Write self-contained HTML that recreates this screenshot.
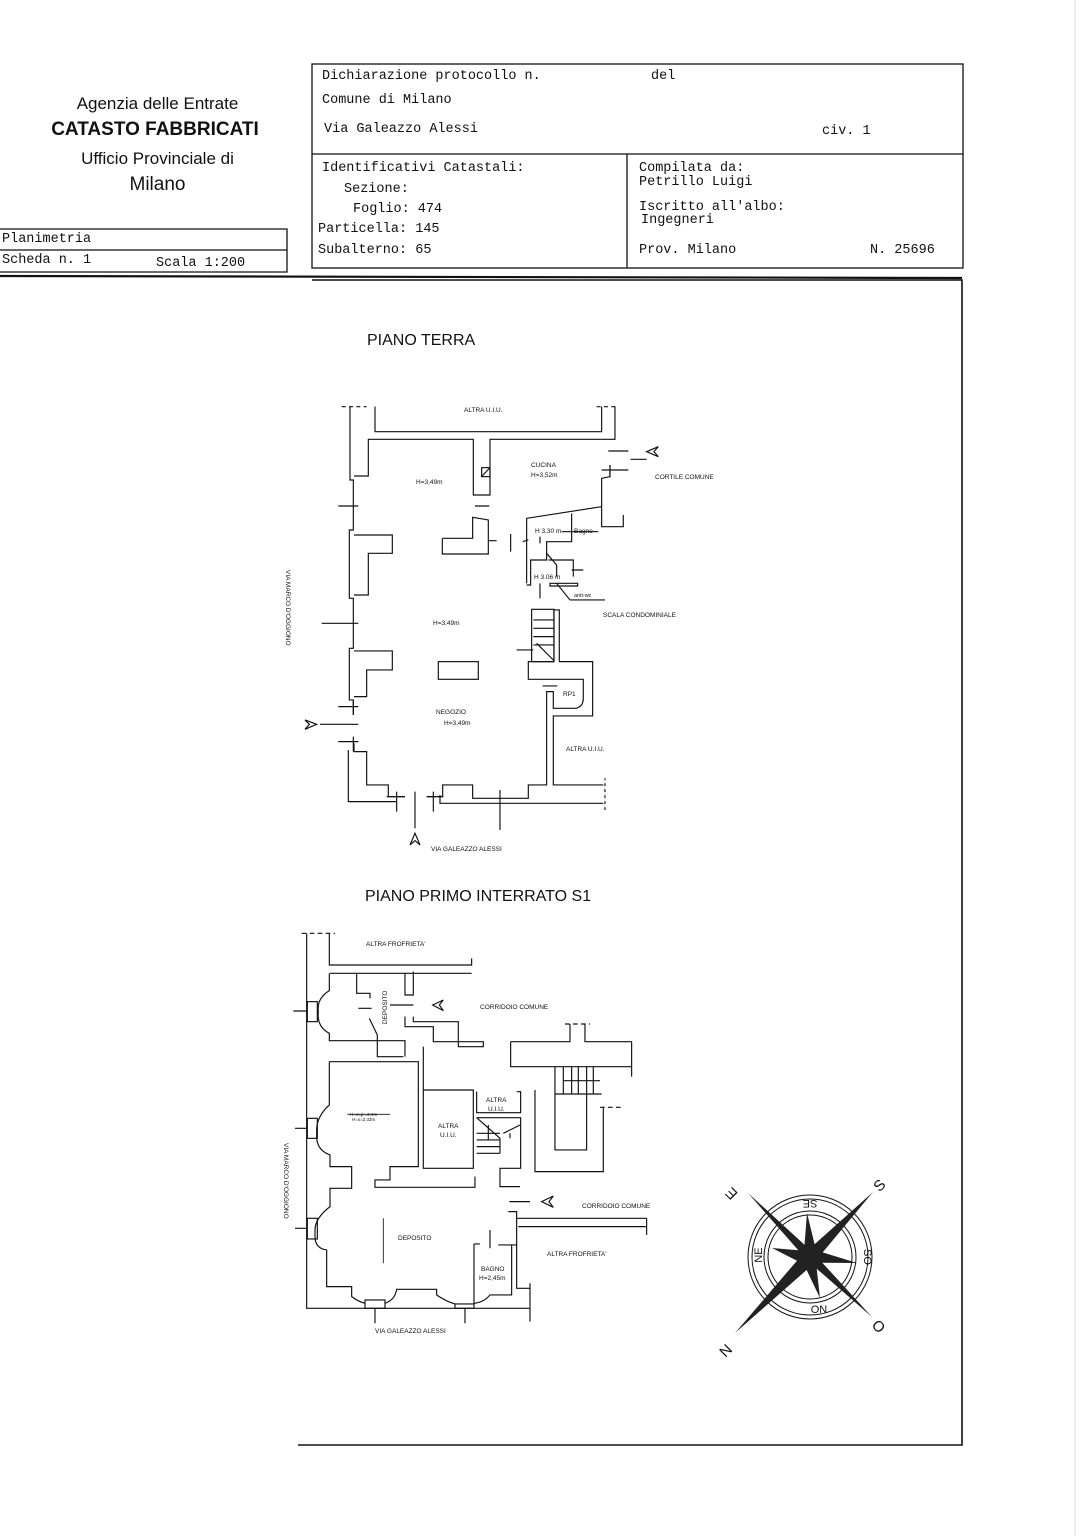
<!DOCTYPE html>
<html><head><meta charset="utf-8"><style>
body{margin:0;background:#fff;width:1085px;height:1536px;overflow:hidden;position:relative}
.m{font-family:"Liberation Mono",monospace;font-size:13.5px;position:absolute;color:#111;white-space:pre}
.s{font-family:"Liberation Sans",sans-serif;position:absolute;color:#111;text-align:center}
</style></head><body>
<div class="s" style="left:40px;top:94px;width:235px;font-size:17px">Agenzia delle Entrate</div>
<div class="s" style="left:30px;top:119px;width:250px;font-size:19px;font-weight:bold">CATASTO FABBRICATI</div>
<div class="s" style="left:40px;top:149px;width:235px;font-size:17px">Ufficio Provinciale di</div>
<div class="s" style="left:40px;top:174px;width:235px;font-size:19px">Milano</div>

<svg width="1085" height="1536" style="position:absolute;left:0;top:0" fill="none" stroke="#111">
<rect x="312" y="64" width="651" height="204" stroke-width="1.3"/>
<line x1="312" y1="154" x2="963" y2="154" stroke-width="1.3"/>
<line x1="627" y1="154" x2="627" y2="268" stroke-width="1.3"/>
<polyline points="0,229 287,229 287,272 0,272" stroke-width="1.3"/>
<line x1="0" y1="250" x2="287" y2="250" stroke-width="1.3"/>
<line x1="0" y1="276" x2="962" y2="278" stroke-width="2.2"/>
<polyline points="312,280 962,280 962,1445 298,1445" stroke-width="1.6"/>
<line x1="1075" y1="0" x2="1075" y2="1536" stroke="#ddd" stroke-width="1"/>

<!-- Ground floor -->
<g transform="translate(280,390) scale(0.3333)" stroke-width="3.5">
<path d="M185,50 H260 M950,50 H1010"  stroke-dasharray="12,10"/>
<path d="M210,50 V270 H220 V420 H208 V625 H220 V775 H208 V930 H220 V975"/>
<path d="M285,50 V125 H965 V50 M1005,50 V148 H630 V315 H580 V148 H265 V258 H222"/>
<path d="M222,435 H337 V490 H265 V615 H222 M222,783 H337 V840 H260 V920 H222"/>
<path d="M205,1080 V1235 H350 M222,1060 V1085 H260 V1185 H325 V1220 H375"/>
<path d="M440,1220 H488 V1185 H578 V1225 H745 V1185 H800 V905 H820 V955 H888 Q910,950 910,925 V868 H745 V815 H822 V660 H838 V815 H938 V978 H820 V1185 H970 M738,1240 H970 M480,1215 V1240 H738"/>
<rect x="755" y="658" width="67" height="157"/>
<path d="M760,690 H822 M760,715 H822 M760,740 H822 M760,765 H822 M770,760 L822,812 M710,780 H760"/>
<path d="M740,580 V385 L965,350 V265 L990,260 V225 M965,350 V410 H1030 V375 M740,585 H752 V510 H800 V455 H875 V370 M800,490 L830,525 V560 M805,510 H880 V560 M875,540 H910 M810,580 H893 V588 H810 Z M830,580 L870,630 H975 M845,425 H955 M728,455 L745,450 M780,440 V460 M780,580 V625"/>
<path d="M487,445 H578 V382 L625,390 V452 H650 M487,445 V492 H625 V452"/>
<rect x="475" y="815" width="120" height="53"/>
<rect x="605" y="233" width="25" height="27"/><path d="M605,260 L630,233"/>
<path d="M585,348 H628 M692,432 V485 M985,183 H1045 M1052,208 H1100 M965,240 H1045 M990,225 V262 M175,348 H235 M125,700 H235 M175,950 H235 M120,1003 H235 M175,1055 H235 M220,930 V975 M220,1040 V1085 M320,1220 H375 M350,1205 V1265 M440,1220 H490 M460,1205 V1265 M660,1200 V1320 M405,1205 V1315 M975,1165 V1260 M788,888 H832" />
<path d="M975,1170 V1260" stroke-dasharray="10,8" stroke="#fff"/>
<path d="M1135,170 L1100,185 L1135,200 L1122,185 Z M75,990 L110,1003 L75,1018 L88,1003 Z M390,1365 L405,1330 L420,1365 L405,1352 Z"/>
</g>
<g font-family="Liberation Sans,sans-serif" font-size="6.5" fill="#111" stroke="none">
<text x="464" y="412">ALTRA U.I.U.</text>
<text x="531" y="467">CUCINA</text><text x="531" y="477">H=3,52m</text>
<text x="416" y="484">H=3,49m</text>
<text x="655" y="479">CORTILE COMUNE</text>
<text x="535" y="533">H 3.30 m</text><text x="574" y="533">Bagno</text>
<text x="534" y="579">H 3.06 m</text><text x="574" y="597" font-size="5.5">anti-wc</text>
<text x="603" y="617">SCALA CONDOMINIALE</text>
<text x="433" y="625">H=3,49m</text>
<text x="563" y="696">RP1</text>
<text x="436" y="714">NEGOZIO</text><text x="444" y="725">H=3,49m</text>
<text x="566" y="751">ALTRA U.I.U.</text>
<text x="431" y="851">VIA GALEAZZO ALESSI</text>
<text transform="translate(286,570) rotate(90)">VIA MARCO D'OGGIONO</text>
</g>
<text x="367" y="345" font-family="Liberation Sans,sans-serif" font-size="16" fill="#111" stroke="none">PIANO TERRA</text>
<text x="365" y="901" font-family="Liberation Sans,sans-serif" font-size="16" fill="#111" stroke="none">PIANO PRIMO INTERRATO S1</text>

<!-- Basement -->
<g transform="translate(270,920) scale(0.3333)" stroke-width="3.5">
<path d="M95,40 H195 M885,312 H960 M990,562 H1060" stroke-dasharray="14,10"/>
<path d="M110,40 V1165 H780 M178,40 V135 H605 V115 M180,160 H605"/>
<path d="M178,160 V212 Q140,235 145,275 Q140,320 178,340 V362 H405 V410 M178,425 V555 Q140,590 140,630 V650 Q140,690 180,705 V740 H245 V805 H180 V860 Q135,895 135,930 V950 Q135,985 170,990 V1100 H245 V1130 Q265,1145 285,1150 M345,1150 Q375,1140 380,1108 H500 V1125 Q530,1145 555,1152"/>
<rect x="112" y="245" width="30" height="60"/><rect x="112" y="595" width="30" height="60"/><rect x="112" y="895" width="30" height="62"/>
<rect x="285" y="1140" width="60" height="25"/><rect x="555" y="1152" width="57" height="13"/>
<path d="M260,160 V220 H300 V235 M405,160 V225 H430 V155 M405,290 V320 H490 V365 H640 V380 H565 V305 H430 V290 M298,295 L322,345 V410 H400 M178,425 H445 V740 H360 V780 H315 V802 H615 V770 M460,380 V745 H610 V510 H460 M620,515 V578 H752 V515 H740 M620,593 H752 V745 H690 V800 H750 M722,365 V440 H1085 M722,365 H900 V312 M945,312 V365 H1085 M855,440 V690 H950 V440 M795,510 V755 H1000 V562 M855,522 H995 M880,440 V522 M905,440 V522 M925,440 V522 M950,440 V522 M970,440 V522 M880,482 H990"/>
<path d="M620,593 L690,655 V700 M620,640 H690 M620,660 H690 M620,680 H690 M620,700 H690 M655,615 V660 M700,640 L750,615 M720,640 V655 M1085,365 V470" />
<path d="M740,875 V1105 H780 M740,895 H1130 M745,920 H1130 M715,875 H740 V975 H685 M612,972 H630 M612,972 V1150 H615 Q645,1145 660,1125 H725 V975 M660,930 V985 M718,845 H780 M265,265 H305 M360,255 H430 M315,1165 V1210 M585,1165 V1210 M70,273 H110 M75,625 H110 M75,925 H110 M780,1090 V1205 M1130,895 V945" />
<path d="M520,240 L488,255 L520,272 L508,255 Z M850,828 L815,845 L850,862 L837,845 Z"/>
<path d="M232,583 H360 M340,895 V1030" stroke-width="2.5"/>
</g>
<g font-family="Liberation Sans,sans-serif" font-size="6.5" fill="#111" stroke="none">
<text x="366" y="946">ALTRA FROFRIETA'</text>
<text x="480" y="1009">CORRIDOIO COMUNE</text>
<text transform="translate(387,1024) rotate(-90)">DEPOSITO</text>
<text x="486" y="1102">ALTRA</text><text x="488" y="1111">U.I.U.</text>
<text x="438" y="1128">ALTRA</text><text x="440" y="1137">U.I.U.</text>
<text x="350" y="1116" font-size="4.5">H=m.p.=2,6m</text><text x="352" y="1121" font-size="4.5">H=s=2,33m</text>
<text x="582" y="1208">CORRIDOIO COMUNE</text>
<text x="398" y="1240">DEPOSITO</text>
<text x="547" y="1256">ALTRA FROFRIETA'</text>
<text x="481" y="1271">BAGNO</text><text x="479" y="1280">H=2,45m</text>
<text x="375" y="1333">VIA GALEAZZO ALESSI</text>
<text transform="translate(284,1143) rotate(90)">VIA MARCO D'OGGIONO</text>
</g>

<!-- Compass -->
<g>
<circle cx="810" cy="1257" r="62" stroke-width="1"/><circle cx="810" cy="1257" r="58" stroke-width="1"/>
<circle cx="810" cy="1257" r="46" stroke-width="1"/><circle cx="810" cy="1257" r="42" stroke-width="1"/>
<polygon fill="#222" stroke="none" transform="translate(810,1257)" points="-62,-64 -5.5,-12.3 -3,-44 4.6,-12.7 63,-65 12.7,-4.6 47,6 12.3,5.7 62,60 6.7,11.7 10,41 -3.4,13 -75,76 -13,3.7 -38,-9 -11.7,-6.7"/>
<g font-family="Liberation Sans,sans-serif" font-size="15" fill="#111" stroke="none">
<text transform="translate(735,1190) rotate(-135)" text-anchor="middle">E</text>
<text transform="translate(883,1189) rotate(-45)" text-anchor="middle">S</text>
<text transform="translate(875,1330) rotate(45)" text-anchor="middle">O</text>
<text transform="translate(722,1347) rotate(135)" text-anchor="middle">N</text>
</g>
<g font-family="Liberation Sans,sans-serif" font-size="11" fill="#111" stroke="none">
<text transform="translate(810,1200) rotate(180)" text-anchor="middle">SE</text>
<text transform="translate(864,1257) rotate(90)" text-anchor="middle">SO</text>
<text x="819" y="1313" text-anchor="middle">ON</text>
<text transform="translate(762,1255) rotate(-90)" text-anchor="middle">NE</text>
</g>
</g>
</svg>

<div class="m" style="left:322px;top:69px">Dichiarazione protocollo n.</div>
<div class="m" style="left:651px;top:69px">del</div>
<div class="m" style="left:322px;top:93px">Comune di Milano</div>
<div class="m" style="left:324px;top:122px">Via Galeazzo Alessi</div>
<div class="m" style="left:822px;top:124px">civ. 1</div>
<div class="m" style="left:322px;top:161px">Identificativi Catastali:</div>
<div class="m" style="left:344px;top:182px">Sezione:</div>
<div class="m" style="left:353px;top:202px">Foglio: 474</div>
<div class="m" style="left:318px;top:222px">Particella: 145</div>
<div class="m" style="left:318px;top:243px">Subalterno: 65</div>
<div class="m" style="left:639px;top:161px">Compilata da:</div>
<div class="m" style="left:639px;top:175px">Petrillo Luigi</div>
<div class="m" style="left:639px;top:200px">Iscritto all'albo:</div>
<div class="m" style="left:641px;top:213px">Ingegneri</div>
<div class="m" style="left:639px;top:243px">Prov. Milano</div>
<div class="m" style="left:870px;top:243px">N. 25696</div>
<div class="m" style="left:2px;top:232px">Planimetria</div>
<div class="m" style="left:2px;top:253px">Scheda n. 1</div>
<div class="m" style="left:156px;top:256px">Scala 1:200</div>
</body></html>
